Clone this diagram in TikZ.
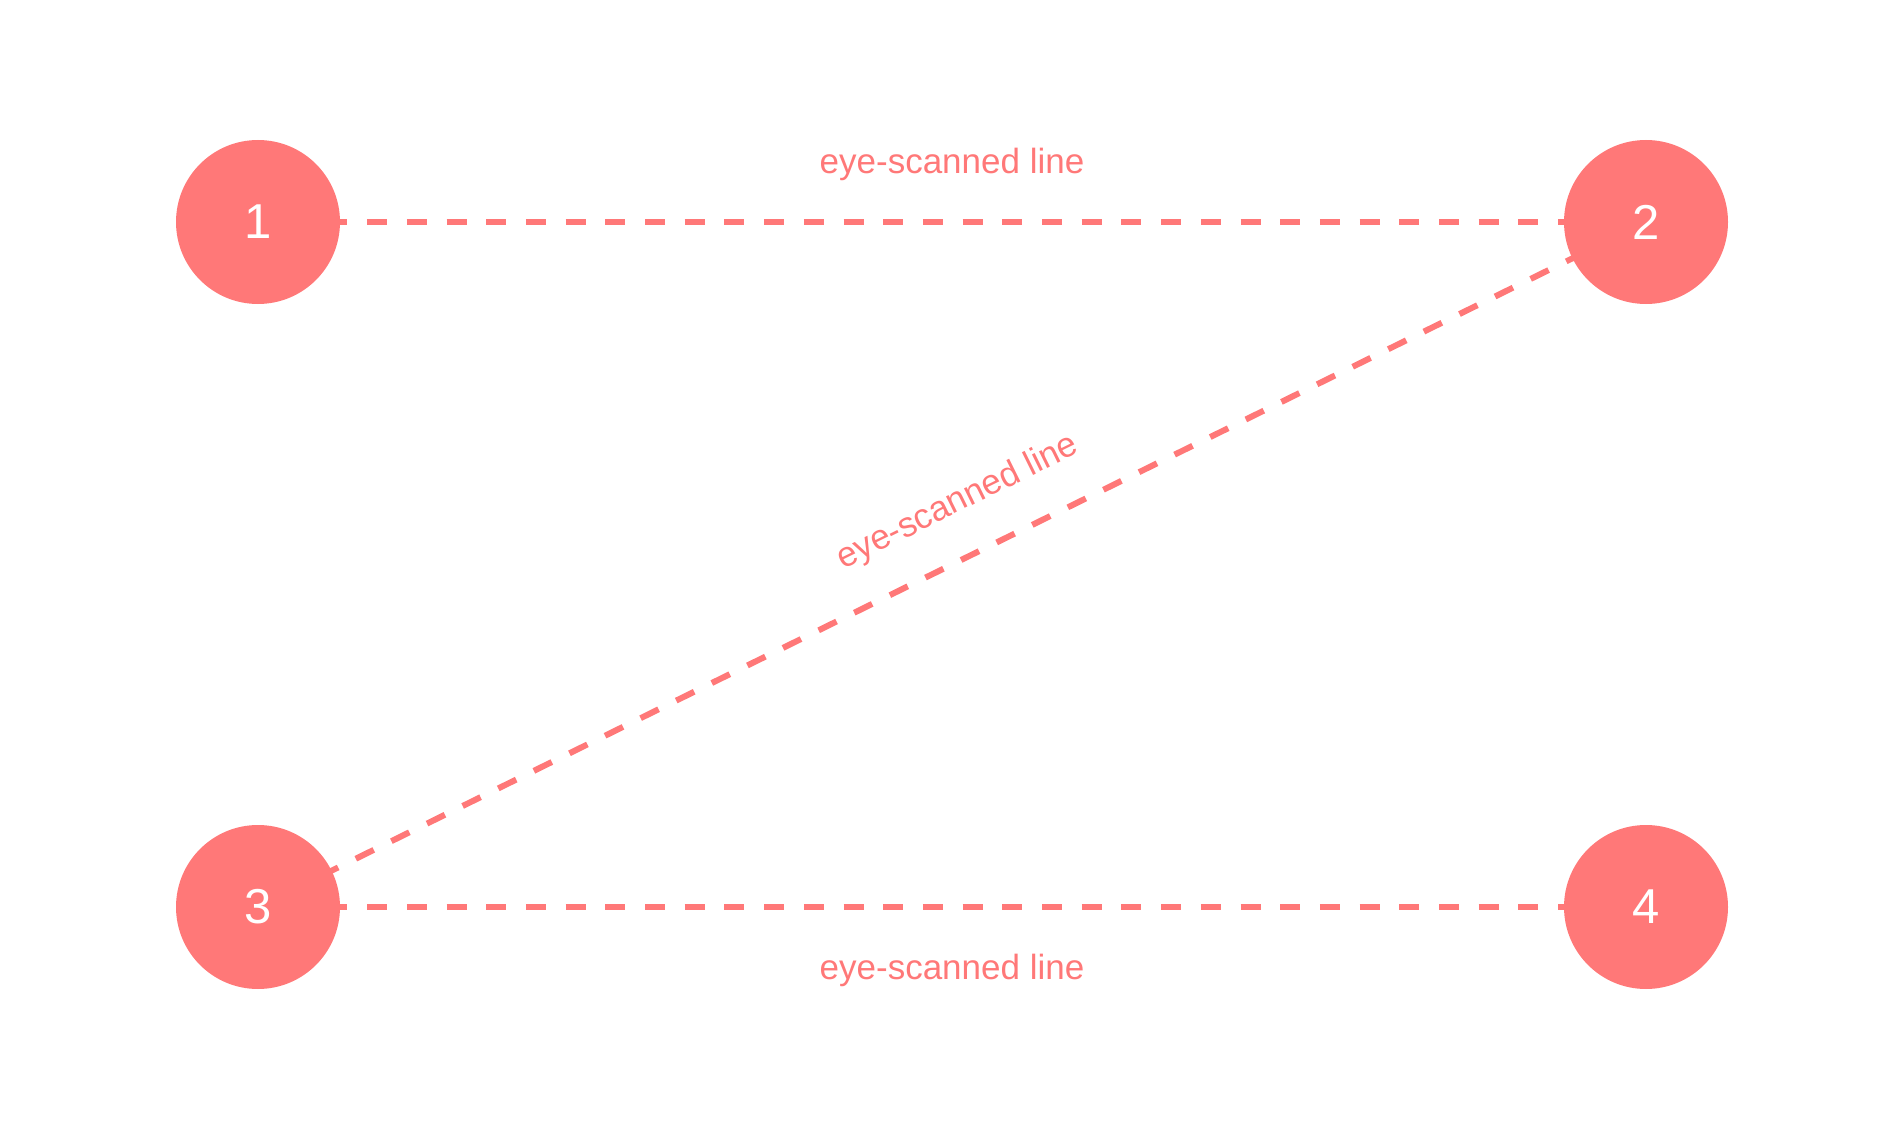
\documentclass[tikz,border=0pt]{standalone}
\usepackage{fontspec}
\setmainfont{Liberation Sans}
\usetikzlibrary{backgrounds}
\definecolor{salmon}{HTML}{FF7878}

\begin{document}
\begin{tikzpicture}[
  x=0.5pt, y=-0.5pt,
  dot/.style={circle, fill=salmon, minimum size=82pt, inner sep=0pt, text=white, font=\fontsize{24.5}{24.5}\selectfont},
  scan/.style={draw=salmon, line width=3pt, dash pattern=on 10pt off 9.85pt, dash phase=5pt},
  lbl/.style={text=salmon, font=\fontsize{17.5}{17.5}\selectfont, inner sep=0pt, text depth=0pt}
]
\useasboundingbox (0,0) rectangle (1903,1129);
\node[dot] (n1) at (258,222) {1};
\node[dot] (n2) at (1646,222) {2};
\node[dot] (n3) at (258,907) {3};
\node[dot] (n4) at (1646,907) {4};
\begin{pgfonlayer}{background}
\draw[scan] (n1.center) -- node[lbl, above=22.5pt] (top) {eye-scanned line} (n2.center);
\draw[scan] (n3.center) -- node[lbl, sloped, pos=0.521, above=20.5pt] (diag) {eye-scanned line} (n2.center);
\draw[scan] (n3.center) -- node[lbl, below=22pt] (bot) {eye-scanned line} (n4.center);
\end{pgfonlayer}
\end{tikzpicture}
\end{document}
